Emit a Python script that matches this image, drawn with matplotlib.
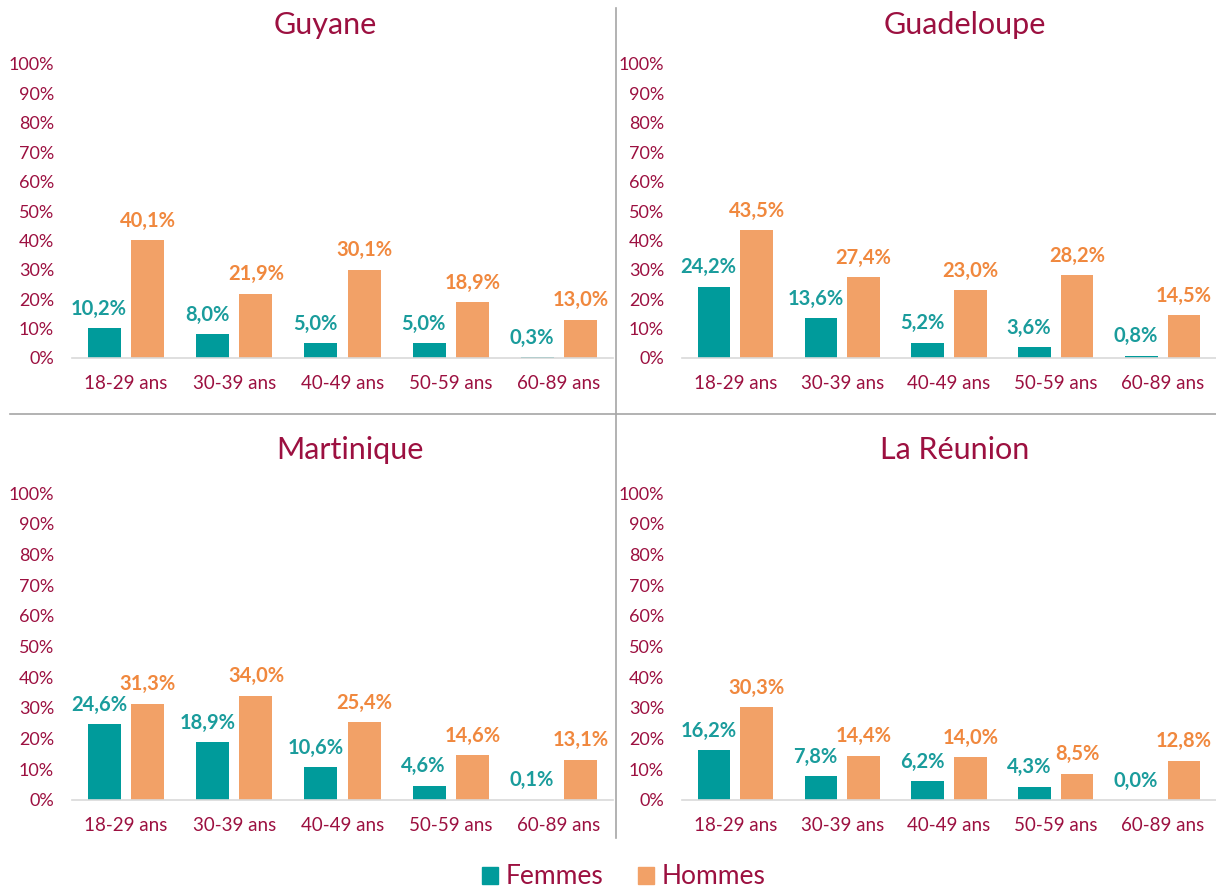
import matplotlib
matplotlib.use("Agg")
import matplotlib.pyplot as plt
from matplotlib.lines import Line2D
from matplotlib.patches import Patch
import numpy as np

plt.rcParams['font.family'] = ['Lato', 'DejaVu Sans']

categories = ["18-29 ans", "30-39 ans", "40-49 ans", "50-59 ans", "60-89 ans"]
regions = ["Guyane", "Guadeloupe", "Martinique", "La Réunion"]

guyane_f = [10.2, 8.0, 5.0, 5.0, 0.3]
guyane_h = [40.1, 21.9, 30.1, 18.9, 13.0]
guadeloupe_f = [24.2, 13.6, 5.2, 3.6, 0.8]
guadeloupe_h = [43.5, 27.4, 23.0, 28.2, 14.5]
martinique_f = [24.6, 18.9, 10.6, 4.6, 0.1]
martinique_h = [31.3, 34.0, 25.4, 14.6, 13.1]
reunion_f = [16.2, 7.8, 6.2, 4.3, 0.0]
reunion_h = [30.3, 14.4, 14.0, 8.5, 12.8]

femmes = [guyane_f, guadeloupe_f, martinique_f, reunion_f]
hommes = [guyane_h, guadeloupe_h, martinique_h, reunion_h]

TEAL = "#009B9B"
TEAL_TXT = "#1A9C9C"
ORANGE = "#F2A167"
ORANGE_TXT = "#F0883E"
RED = "#9C1040"

W, H = 1216, 892
fig = plt.figure(figsize=(W / 100, H / 100), dpi=100)

# axes boxes in pixels: left, right, y of 0%, y of 100%
boxes = [
    (72, 613, 358, 64),
    (682, 1216, 358, 64),
    (72, 613, 800, 493),
    (682, 1216, 800, 493),
]
title_pos = [(325, 25), (965, 25), (350, 450), (955, 450)]

x = np.arange(len(categories))
bw = 0.305
off = 0.2

for i in range(4):
    l, r, y0, y1 = boxes[i]
    ax = fig.add_axes([l / W, 1 - y0 / H, (r - l) / W, (y0 - y1) / H])
    ax.bar(x - off, femmes[i], bw, color=TEAL)
    ax.bar(x + off, hommes[i], bw, color=ORANGE)
    for xi, v in zip(x, femmes[i]):
        ax.annotate(f"{v:.1f}%".replace(".", ","), (xi - off - 0.05, v), xytext=(0, 14),
                    textcoords="offset points", ha="center", va="center",
                    fontsize=14.5, fontweight="bold", color=TEAL_TXT)
    for xi, v in zip(x, hommes[i]):
        ax.annotate(f"{v:.1f}%".replace(".", ","), (xi + off, v), xytext=(0, 14),
                    textcoords="offset points", ha="center", va="center",
                    fontsize=14.5, fontweight="bold", color=ORANGE_TXT)
    ax.set_xlim(-0.5, 4.5)
    ax.set_ylim(0, 100)
    ax.set_yticks(np.arange(0, 101, 10))
    ax.set_yticklabels([f"{t}%" for t in range(0, 101, 10)])
    ax.set_xticks(x)
    ax.set_xticklabels(categories)
    ax.tick_params(axis="y", length=0, pad=13, labelsize=13, labelcolor=RED)
    ax.tick_params(axis="x", length=0, pad=12, labelsize=13.5, labelcolor=RED)
    for s in ["top", "right", "left"]:
        ax.spines[s].set_visible(False)
    ax.spines["bottom"].set_color("#D9D9D9")
    ax.spines["bottom"].set_linewidth(1.2)
    ax.patch.set_alpha(0)
    tx, ty = title_pos[i]
    fig.text(tx / W, 1 - ty / H, regions[i], ha="center", va="center",
             fontsize=22, color=RED)

# dividers
fig.add_artist(Line2D([616 / W, 616 / W], [1 - 8 / H, 1 - 838 / H], color="#A6A6A6", lw=1.2))
fig.add_artist(Line2D([10 / W, 1], [1 - 414 / H, 1 - 414 / H], color="#A6A6A6", lw=1.2))

handles = [Patch(color=TEAL, label="Femmes"), Patch(color=ORANGE, label="Hommes")]
leg = fig.legend(handles=handles, loc="center", bbox_to_anchor=(624 / W, 1 - 877 / H),
                 ncol=2, frameon=False, fontsize=19, handlelength=0.6, handleheight=0.6,
                 columnspacing=1.3, handletextpad=0.3)
for t in leg.get_texts():
    t.set_color(RED)

fig.savefig("out.png", dpi=100)
